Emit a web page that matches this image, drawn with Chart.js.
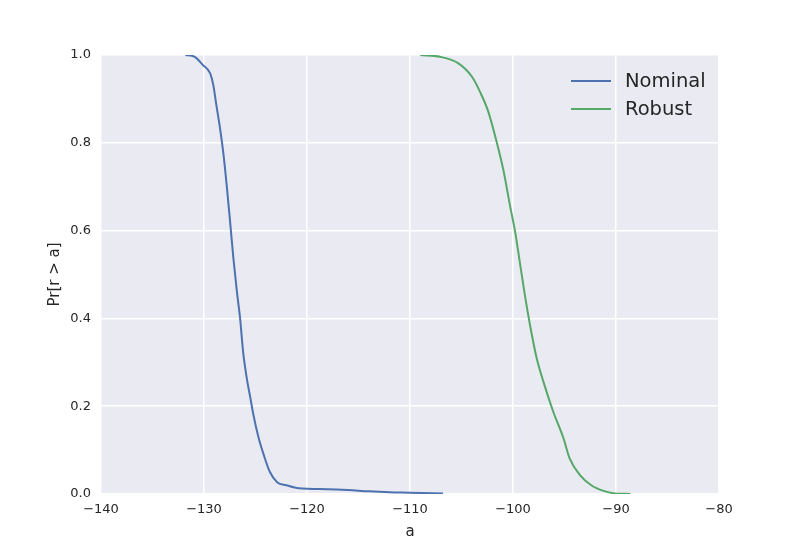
<!DOCTYPE html>
<html lang="en">
<head>
    <meta charset="UTF-8">
    <title>Pr[r > a]</title>
    <script src="https://cdn.jsdelivr.net/npm/chart.js"></script>
    <style>
        body { margin: 0; background: #ffffff; }
        canvas { display: block; }
    </style>
</head>
<body>
    <canvas id="chart" width="800" height="550" style="width:800px;height:550px"></canvas>

    <script>
        // Data
        const nominalA = [-131.8, -130.9, -130.1, -129.4, -129.1, -128.8, -128.45, -128.1, -127.8, -127.5, -127.15, -126.8, -126.5, -126.2, -125.85, -125.5, -125.2, -124.7, -124.2, -123.6, -122.9, -122.0, -120.8, -118.0, -116.0, -114.0, -112.0, -110.0, -106.8];
        const nominalP = [1.0, 0.996, 0.977, 0.958, 0.932, 0.886, 0.834, 0.772, 0.704, 0.629, 0.538, 0.460, 0.401, 0.323, 0.264, 0.219, 0.180, 0.128, 0.089, 0.050, 0.027, 0.020, 0.013, 0.011, 0.009, 0.006, 0.004, 0.003, 0.001];
        const robustA = [-109.0, -107.1, -105.3, -104.0, -103.2, -102.4, -101.6, -100.9, -100.3, -99.8, -99.3, -98.8, -98.35, -97.7, -97.05, -96.1, -95.1, -94.5, -93.5, -92.4, -91.2, -90.3, -88.6];
        const robustP = [1.0, 0.996, 0.981, 0.951, 0.916, 0.871, 0.803, 0.734, 0.658, 0.598, 0.522, 0.446, 0.385, 0.309, 0.256, 0.188, 0.127, 0.081, 0.043, 0.020, 0.007, 0.002, 0.0];
        const seriesNames = ['Nominal', 'Robust'];
        const seriesColors = ['#4C72B0', '#55A868'];

        const toPoints = (xs, ys) => xs.map((x, i) => ({ x: x, y: ys[i] }));

        const tickColor = '#262626';
        const fontFamily = '"DejaVu Sans", sans-serif';

        // grey plot background
        const bgPlugin = {
            id: 'plotBg',
            beforeDraw(chart) {
                const a = chart.chartArea;
                const ctx = chart.ctx;
                ctx.save();
                ctx.fillStyle = '#EAEAF2';
                ctx.fillRect(a.left, a.top, a.right - a.left, a.bottom - a.top);
                ctx.restore();
            }
        };

        // legend in the upper right corner, inside the plot
        const legendPlugin = {
            id: 'cornerLegend',
            afterDatasetsDraw(chart) {
                const ctx = chart.ctx;
                const a = chart.chartArea;
                ctx.save();
                ctx.font = '19.5px ' + fontFamily;
                ctx.textBaseline = 'middle';
                chart.data.datasets.forEach((ds, i) => {
                    const y = a.top + 26 + i * 28;
                    const x0 = a.right - 148;
                    ctx.strokeStyle = ds.borderColor;
                    ctx.lineWidth = 2;
                    ctx.beginPath();
                    ctx.moveTo(x0, y);
                    ctx.lineTo(x0 + 40, y);
                    ctx.stroke();
                    ctx.fillStyle = tickColor;
                    ctx.fillText(ds.label, x0 + 54, y + 1);
                });
                ctx.restore();
            }
        };

        const fmtMinus = v => (v < 0 ? '\u2212' + Math.abs(v) : String(v));

        const lineStyle = { borderWidth: 2, pointRadius: 0, fill: false, cubicInterpolationMode: 'monotone' };

        new Chart(document.getElementById('chart').getContext('2d'), {
            type: 'line',
            data: {
                datasets: [
                    Object.assign({ label: seriesNames[0], data: toPoints(nominalA, nominalP), borderColor: seriesColors[0] }, lineStyle),
                    Object.assign({ label: seriesNames[1], data: toPoints(robustA, robustP), borderColor: seriesColors[1] }, lineStyle)
                ]
            },
            options: {
                responsive: false,
                animation: false,
                layout: { padding: { left: 0, right: 81, top: 55, bottom: 0 } },
                plugins: { legend: { display: false }, tooltip: { enabled: false } },
                scales: {
                    x: {
                        type: 'linear',
                        min: -140, max: -80,
                        border: { display: false },
                        grid: { color: '#ffffff', lineWidth: 1.5, drawTicks: false },
                        ticks: { stepSize: 10, padding: 8, color: tickColor, font: { family: fontFamily, size: 13 }, callback: v => fmtMinus(v), maxRotation: 0 },
                        title: { display: true, text: 'a', color: tickColor, font: { family: fontFamily, size: 15 }, padding: { top: 0, bottom: 9 } },
                        afterFit(scale) { scale.height = 56; }
                    },
                    y: {
                        type: 'linear',
                        min: 0, max: 1,
                        border: { display: false },
                        grid: { color: '#ffffff', lineWidth: 1.5, drawTicks: false },
                        ticks: { stepSize: 0.2, padding: 10, color: tickColor, font: { family: fontFamily, size: 13 }, callback: v => v.toFixed(1) },
                        title: { display: true, text: 'Pr[r > a]', color: tickColor, font: { family: fontFamily, size: 15 }, padding: { top: 46, bottom: 0 } },
                        afterFit(scale) { scale.width = 101; }
                    }
                }
            },
            plugins: [bgPlugin, legendPlugin]
        });
    </script>
</body>
</html>
